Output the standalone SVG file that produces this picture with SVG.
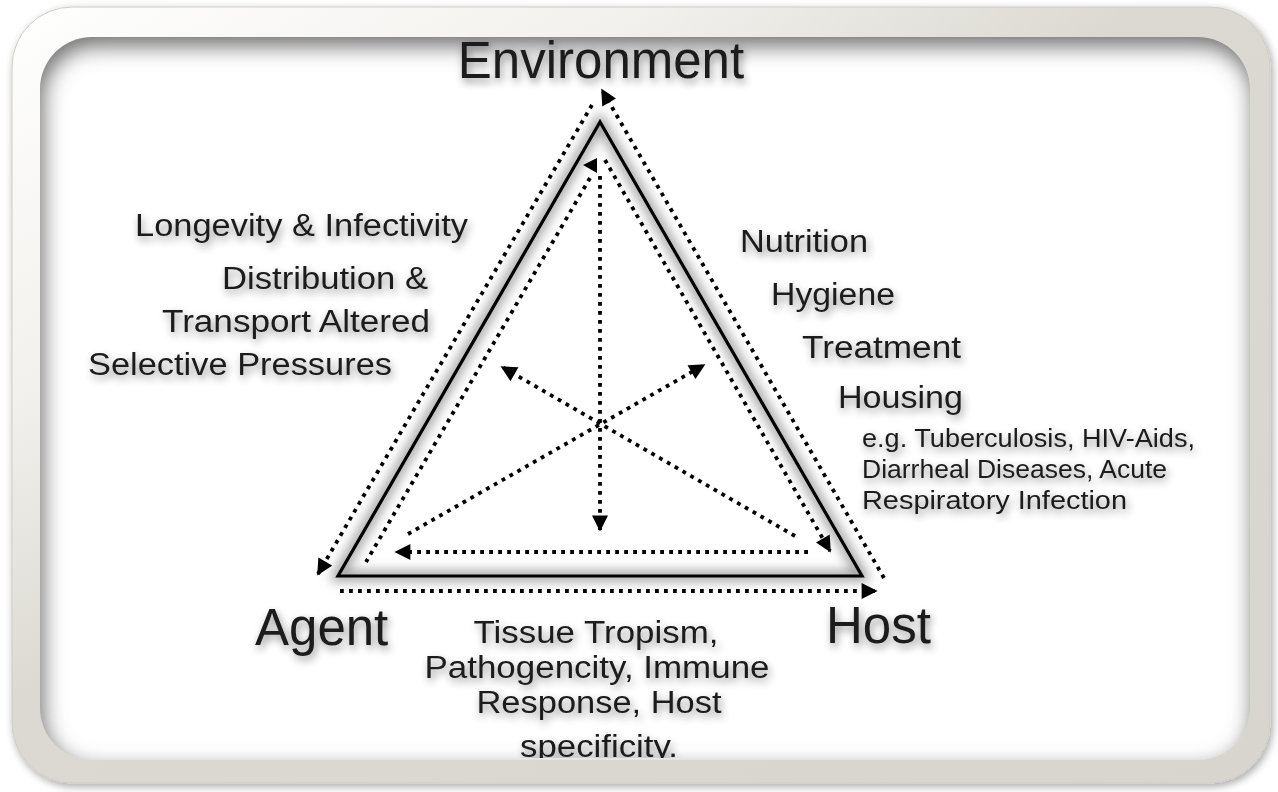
<svg xmlns="http://www.w3.org/2000/svg" width="1278" height="792" viewBox="0 0 1278 792">
<defs>
<style>
.t{font-family:"Liberation Sans",Arial,sans-serif;fill:#1a1a1a;filter:url(#tshadow)}
.big{font-size:51px}
.mid{font-size:31px}
.sm{font-size:25px}
.dot{fill:none;stroke:#000;stroke-width:3.8;stroke-dasharray:3.8 5.2}
.ah{fill:#000}
</style>
<linearGradient id="frameG" x1="0" y1="0" x2="1" y2="1">
<stop offset="0" stop-color="#ffffff"/>
<stop offset="0.25" stop-color="#f2f1ed"/>
<stop offset="0.45" stop-color="#dcd9d2"/>
<stop offset="1" stop-color="#d8d5ce"/>
</linearGradient>
<filter id="outerSh" x="-5%" y="-5%" width="110%" height="110%">
<feGaussianBlur in="SourceAlpha" stdDeviation="4"/>
<feOffset dx="2" dy="3"/>
<feComponentTransfer><feFuncA type="linear" slope="0.35"/></feComponentTransfer>
<feMerge><feMergeNode/><feMergeNode in="SourceGraphic"/></feMerge>
</filter>
<filter id="blurIn" x="-10%" y="-10%" width="120%" height="120%">
<feGaussianBlur stdDeviation="11"/>
</filter>
<filter id="glow" x="-20%" y="-20%" width="140%" height="140%">
<feGaussianBlur stdDeviation="6"/>
</filter>
<filter id="tshadow" x="-10%" y="-30%" width="120%" height="160%">
<feGaussianBlur in="SourceAlpha" stdDeviation="4"/>
<feOffset dx="2" dy="4"/>
<feComponentTransfer><feFuncA type="linear" slope="0.45"/></feComponentTransfer>
<feMerge><feMergeNode/><feMergeNode in="SourceGraphic"/></feMerge>
</filter>
<clipPath id="innerClip"><rect x="40" y="37" width="1210" height="723" rx="52"/></clipPath>
<clipPath id="textClip"><rect x="40" y="37" width="1210" height="721"/></clipPath>
<marker id="arr" viewBox="0 0 10 10" refX="9" refY="5" markerUnits="userSpaceOnUse" markerWidth="17" markerHeight="16" orient="auto">
<path d="M0,0 L10,5 L0,10 Z" fill="#000"/>
</marker>
</defs>

<rect width="1278" height="792" fill="#ffffff"/>

<g id="frame">
<rect x="12" y="7" width="1258" height="776" rx="60" fill="url(#frameG)" stroke="#cfccc4" stroke-width="1" filter="url(#outerSh)"/>
<rect x="40" y="37" width="1210" height="723" rx="52" fill="#ffffff"/>
<g clip-path="url(#innerClip)">
<path d="M-100,-100 H1400 V900 H-100 Z M40,89 A52,52 0 0 1 92,37 H1198 A52,52 0 0 1 1250,89 V708 A52,52 0 0 1 1198,760 H92 A52,52 0 0 1 40,708 Z" fill="#6e6e6e" fill-rule="evenodd" transform="translate(3,9)" filter="url(#blurIn)"/>
</g>
</g>

<g clip-path="url(#innerClip)">
<g id="triangle">
<path d="M600,122 L338,576 L862,576 Z" fill="none" stroke="#9a9a9a" stroke-width="10" filter="url(#glow)"/>
<path d="M600,122 L338,576 L862,576 Z" fill="none" stroke="#000" stroke-width="3.2" stroke-linejoin="miter"/>
</g>

<g id="connectors">
<path class="dot" d="M592,105 L318,574" marker-end="url(#arr)"/>
<path class="dot" d="M884,578 L602,90" marker-end="url(#arr)"/>
<path class="dot" d="M340,591 L876,591" marker-end="url(#arr)"/>
<path class="dot" d="M590,178 L366,562"/>
<path class="dot" d="M605,160 L830,551" marker-end="url(#arr)"/>
<polygon class="ah" points="583,165 597,158 597,173"/>
<path class="dot" d="M600,176 L600,530" marker-end="url(#arr)"/>
<path class="dot" d="M808,552 L396,552" marker-end="url(#arr)"/>
<path class="dot" d="M795,536 L502,367" marker-end="url(#arr)"/>
<path class="dot" d="M408,534 L704,365" marker-end="url(#arr)"/>
</g>

<g id="node-environment"><text class="t big" x="601" y="78" text-anchor="middle">Environment</text></g>
<g id="node-agent"><text class="t big" x="255" y="645">Agent</text></g>
<g id="node-host"><text class="t big" x="826" y="643">Host</text></g>

<g id="agent-factors">
<text class="t mid" x="135" y="236" textLength="333" lengthAdjust="spacingAndGlyphs">Longevity &amp; Infectivity</text>
<text class="t mid" x="222" y="289" textLength="206" lengthAdjust="spacingAndGlyphs">Distribution &amp;</text>
<text class="t mid" x="162" y="332" textLength="268" lengthAdjust="spacingAndGlyphs">Transport Altered</text>
<text class="t mid" x="88" y="375" textLength="304" lengthAdjust="spacingAndGlyphs">Selective Pressures</text>
</g>

<g id="environment-factors">
<text class="t mid" x="740" y="252" textLength="128" lengthAdjust="spacingAndGlyphs">Nutrition</text>
<text class="t mid" x="771" y="305" textLength="124" lengthAdjust="spacingAndGlyphs">Hygiene</text>
<text class="t mid" x="802" y="358" textLength="159" lengthAdjust="spacingAndGlyphs">Treatment</text>
<text class="t mid" x="838" y="408" textLength="125" lengthAdjust="spacingAndGlyphs">Housing</text>
<text class="t sm" x="862" y="447" textLength="333" lengthAdjust="spacingAndGlyphs">e.g. Tuberculosis, HIV-Aids,</text>
<text class="t sm" x="862" y="478" textLength="305" lengthAdjust="spacingAndGlyphs">Diarrheal Diseases, Acute</text>
<text class="t sm" x="862" y="509" textLength="265" lengthAdjust="spacingAndGlyphs">Respiratory Infection</text>
</g>

<g id="host-factors">
<text class="t mid" x="596" y="643" text-anchor="middle" textLength="245" lengthAdjust="spacingAndGlyphs">Tissue Tropism,</text>
<text class="t mid" x="597" y="678" text-anchor="middle" textLength="345" lengthAdjust="spacingAndGlyphs">Pathogencity, Immune</text>
<text class="t mid" x="599" y="713" text-anchor="middle" textLength="245" lengthAdjust="spacingAndGlyphs">Response, Host</text>
<g clip-path="url(#textClip)"><text class="t mid" x="599" y="757" text-anchor="middle" textLength="158" lengthAdjust="spacingAndGlyphs">specificity.</text></g>
</g>
</g>
</svg>
